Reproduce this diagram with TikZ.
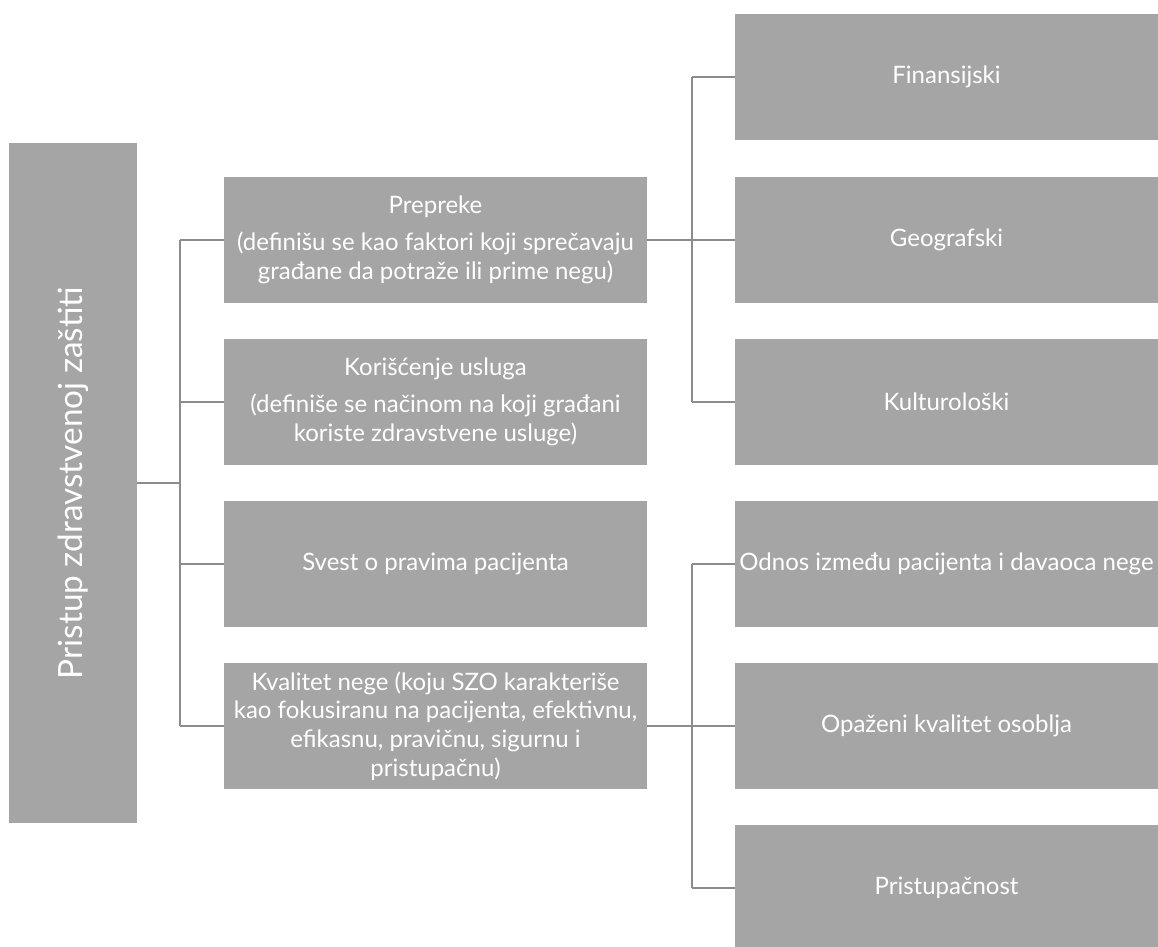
\documentclass[tikz,border=0pt]{standalone}
\usepackage{fontspec}
\setmainfont{Lato}
\definecolor{boxgray}{HTML}{A5A5A5}
\definecolor{linegray}{HTML}{8C8C8C}
\begin{document}
\begin{tikzpicture}[x=0.75pt,y=-0.75pt,
  box/.style={fill=boxgray, draw=none, text=white, align=center, inner sep=0pt,
    minimum width=317.25pt, minimum height=94.5pt,
    font=\fontsize{18}{21.5}\selectfont},
  rootbox/.style={fill=boxgray, draw=none, text=white, inner sep=0pt,
    minimum width=96pt, minimum height=510pt},
  conn/.style={draw=linegray, line width=2pt}]
\clip (0,0) rectangle (1158,947);
\fill[white] (0,0) rectangle (1158,947);

% root
\node[rootbox] (root) at (73,483) {};
\node[rotate=90, text=white, font=\fontsize{25}{30}\selectfont] (roottext) at (root.center) {Pristup zdravstvenoj zaštiti};

% middle column
\node[box] (m1) at (435.5,240) {Prepreke\\[6pt](definišu se kao faktori koji sprečavaju\\građane da potraže ili prime negu)};
\node[box] (m2) at (435.5,402) {Korišćenje usluga\\[6pt](definiše se načinom na koji građani\\koriste zdravstvene usluge)};
\node[box] (m3) at (435.5,564) {Svest o pravima pacijenta};
\node[box] (m4) at (435.5,726) {Kvalitet nege (koju SZO karakteriše\\kao fokusiranu na pacijenta, efektivnu,\\efikasnu, pravičnu, sigurnu i\\pristupačnu)};

% right column
\node[box] (r1) at (946.5,77) {Finansijski};
\node[box] (r2) at (946.5,240) {Geografski};
\node[box] (r3) at (946.5,402) {Kulturološki};
\node[box] (r4) at (946.5,564) {Odnos između pacijenta i davaoca nege};
\node[box] (r5) at (946.5,726) {Opaženi kvalitet osoblja};
\node[box] (r6) at (946.5,888) {Pristupačnost};

% left connectors
\coordinate (jL) at (180,483);
\draw[conn] (root.east) -- (jL);
\draw[conn] (jL |- m1.west) -- (jL |- m4.west);
\foreach \n in {m1,m2,m3,m4} \draw[conn] (jL |- \n.west) -- (\n.west);

% upper right connectors
\coordinate (jU) at (692,240);
\draw[conn] (m1.east) -- (jU);
\draw[conn] (jU |- r1.west) -- (jU |- r3.west);
\foreach \n in {r1,r2,r3} \draw[conn] (jU |- \n.west) -- (\n.west);

% lower right connectors
\coordinate (jD) at (692,726);
\draw[conn] (m4.east) -- (jD);
\draw[conn] (jD |- r4.west) -- (jD |- r6.west);
\foreach \n in {r4,r5,r6} \draw[conn] (jD |- \n.west) -- (\n.west);
\end{tikzpicture}
\end{document}
